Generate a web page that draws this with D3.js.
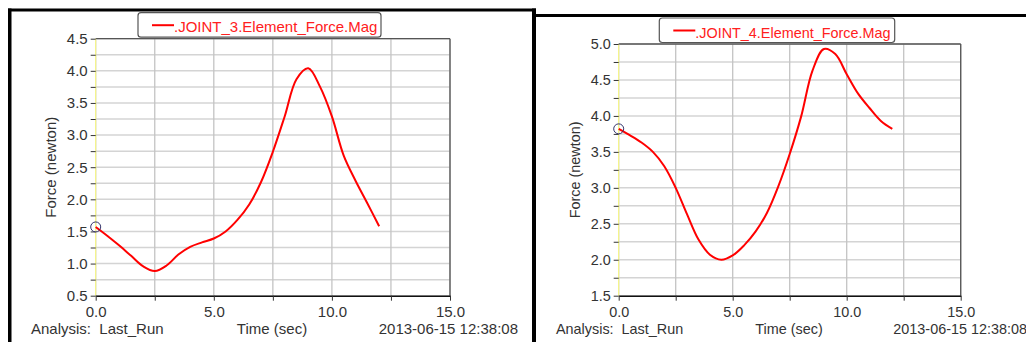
<!DOCTYPE html>
<html>
<head>
<meta charset="utf-8">
<style>
  body { margin: 0; background: #fff; }
  svg { display: block; font-family: "Liberation Sans", Arial, sans-serif; }
</style>
</head>
<body>
<svg width="1026" height="342"></svg>
<script src="https://cdn.jsdelivr.net/npm/d3@7"></script>
<script>
// sample times (sec)
const times = [0, 0.5, 1, 1.5, 2, 2.5, 3, 3.5, 4, 4.5, 5, 5.5, 6, 6.5, 7, 7.5, 8, 8.5, 9, 9.5, 10, 10.5, 11, 11.5, 12];
// force magnitudes (newton)
const joint3Force = [1.57, 1.43, 1.28, 1.12, 0.96, 0.885, 0.97, 1.14, 1.26, 1.33, 1.39, 1.50, 1.68, 1.92, 2.27, 2.74, 3.29, 3.87, 4.04, 3.75, 3.29, 2.68, 2.29, 1.94, 1.58];
const joint4Force = [3.82, 3.73, 3.63, 3.50, 3.30, 3.00, 2.63, 2.28, 2.07, 2.00, 2.06, 2.20, 2.39, 2.65, 3.02, 3.47, 3.99, 4.63, 4.93, 4.86, 4.58, 4.31, 4.11, 3.93, 3.82];

const xTicks = [0, 5, 10, 15];
const yTicks3 = [0.5, 1.0, 1.5, 2.0, 2.5, 3.0, 3.5, 4.0, 4.5];
const yTicks4 = [1.5, 2.0, 2.5, 3.0, 3.5, 4.0, 4.5, 5.0];
const legendNames = [".JOINT_3.Element_Force.Mag", ".JOINT_4.Element_Force.Mag"];
const analysisName = "Last_Run";
const stamp = "2013-06-15 12:38:08";

const svg = d3.select("svg");
svg.append("rect").attr("width", 1026).attr("height", 342).attr("fill", "#fff");

function yTicksFmt(d, major) {
  return major.some(m => Math.abs(m - d) < 1e-6) ? d.toFixed(1) : "";
}

function drawPanel(o) {
  const g = svg.append("g");
  const fs = o.fs + "px";
  const x = d3.scaleLinear().domain([0, 15]).range([o.left, o.right]);
  const y = d3.scaleLinear().domain(o.yDomain).range([o.bottom, o.top]);

  // grid lines
  const xMinor = d3.range(0, 15.01, 2.5);
  const yMinor = d3.range(o.yDomain[0], o.yDomain[1] + 0.001, 0.25);
  g.append("g").selectAll("line").data(yMinor).join("line")
    .attr("x1", o.left).attr("x2", o.right)
    .attr("y1", d => y(d)).attr("y2", d => y(d))
    .attr("stroke", "#d4d4d4").attr("stroke-width", 1.5);
  g.append("g").selectAll("line").data(xMinor).join("line")
    .attr("y1", o.top).attr("y2", o.bottom)
    .attr("x1", d => x(d)).attr("x2", d => x(d))
    .attr("stroke", "#c4c4c4").attr("stroke-width", 1.3);

  // plot frame: top & right grey, left yellow, bottom black
  g.append("line").attr("x1", o.left).attr("x2", o.right).attr("y1", o.top).attr("y2", o.top)
    .attr("stroke", "#555").attr("stroke-width", 1.3);
  g.append("line").attr("x1", o.right).attr("x2", o.right).attr("y1", o.top).attr("y2", o.bottom)
    .attr("stroke", "#555").attr("stroke-width", 1.3);
  g.append("line").attr("x1", o.left).attr("x2", o.left).attr("y1", o.top).attr("y2", o.bottom)
    .attr("stroke", "#ffff80").attr("stroke-width", 1);

  // axes
  const yAxis = d3.axisLeft(y).tickValues(yMinor).tickSize(5).tickSizeOuter(0)
    .tickFormat(d => yTicksFmt(d, o.yTicks));
  const ya = g.append("g").attr("transform", `translate(${o.left},0)`).call(yAxis);
  ya.select(".domain").remove();
  ya.selectAll("line").attr("stroke", "#333");
  ya.selectAll("text").attr("x", -8).attr("fill", "#333")
    .style("font-size", fs).style("font-family", "Liberation Sans, Arial, sans-serif");

  const xAxis = d3.axisBottom(x).tickValues(xMinor).tickSize(5).tickSizeOuter(0)
    .tickFormat(d => xTicks.includes(d) ? d.toFixed(1) : "");
  const xa = g.append("g").attr("transform", `translate(0,${o.bottom})`).call(xAxis);
  xa.select(".domain").attr("stroke", "#111").attr("stroke-width", 1.5);
  xa.selectAll("line").attr("stroke", "#333");
  xa.selectAll("text").attr("y", 8).attr("dy", "0.9em").attr("fill", "#333")
    .style("font-size", fs).style("font-family", "Liberation Sans, Arial, sans-serif");

  // curve
  const pts = times.map((t, i) => [t, o.values[i]]);
  g.append("path").datum(pts)
    .attr("fill", "none").attr("stroke", "#ff0000").attr("stroke-width", 2)
    .attr("d", d3.line().x(d => x(d[0])).y(d => y(d[1])).curve(d3.curveCatmullRom.alpha(0.5)));
  g.append("circle").attr("cx", x(pts[0][0])).attr("cy", y(pts[0][1])).attr("r", 5)
    .attr("fill", "none").attr("stroke", "#33336a").attr("stroke-width", 1);

  // legend
  g.append("rect").attr("x", o.legX).attr("y", o.top - 26).attr("width", o.legW).attr("height", 24.5)
    .attr("rx", 3).attr("fill", "#fff").attr("stroke", "#555").attr("stroke-width", 1.2);
  g.append("line").attr("x1", o.legX + 14).attr("x2", o.legX + 36)
    .attr("y1", o.top - 13.5).attr("y2", o.top - 13.5)
    .attr("stroke", "#ff0000").attr("stroke-width", 2);
  g.append("text").attr("x", o.legX + 36).attr("y", o.top - 6.5)
    .attr("fill", "#ff2020").style("font-size", fs).text(o.name);

  // y label
  g.append("text")
    .attr("transform", `translate(${o.yLabX},${(o.top + o.bottom) / 2}) rotate(-90)`)
    .attr("text-anchor", "middle").attr("fill", "#333").style("font-size", fs)
    .text("Force (newton)");

  // footer
  g.append("text").attr("x", o.anaX).attr("y", 334).attr("fill", "#333").style("font-size", fs)
    .attr("xml:space", "preserve").text("Analysis:  " + analysisName);
  g.append("text").attr("x", o.timeX).attr("y", 334).attr("text-anchor", "middle")
    .attr("fill", "#333").style("font-size", fs).text("Time (sec)");
  g.append("text").attr("x", o.dateX).attr("y", 334).attr("text-anchor", "end")
    .attr("fill", "#333").style("font-size", fs).text(stamp);
}

drawPanel({
  left: 95.7, right: 450, top: 38.7, bottom: 295.7, yDomain: [0.5, 4.5], yTicks: yTicks3,
  values: joint3Force, name: legendNames[0], legX: 138, legW: 243, fs: 15,
  yLabX: 56, anaX: 31, timeX: 272, dateX: 518
});
drawPanel({
  left: 618.7, right: 960.7, top: 44, bottom: 295.7, yDomain: [1.5, 5.0], yTicks: yTicks4,
  values: joint4Force, name: legendNames[1], legX: 659.3, legW: 235.4, fs: 14.4,
  yLabX: 580, anaX: 556, timeX: 789, dateX: 1027
});

// window frames
svg.append("rect").attr("x", 8).attr("y", 8.5).attr("width", 528).attr("height", 3).attr("fill", "#000");
svg.append("rect").attr("x", 8).attr("y", 8.5).attr("width", 3.5).attr("height", 334).attr("fill", "#000");
svg.append("rect").attr("x", 532).attr("y", 8.5).attr("width", 4).attr("height", 334).attr("fill", "#000");
svg.append("rect").attr("x", 533).attr("y", 14).attr("width", 493).attr("height", 3).attr("fill", "#000");
</script>
</body>
</html>
